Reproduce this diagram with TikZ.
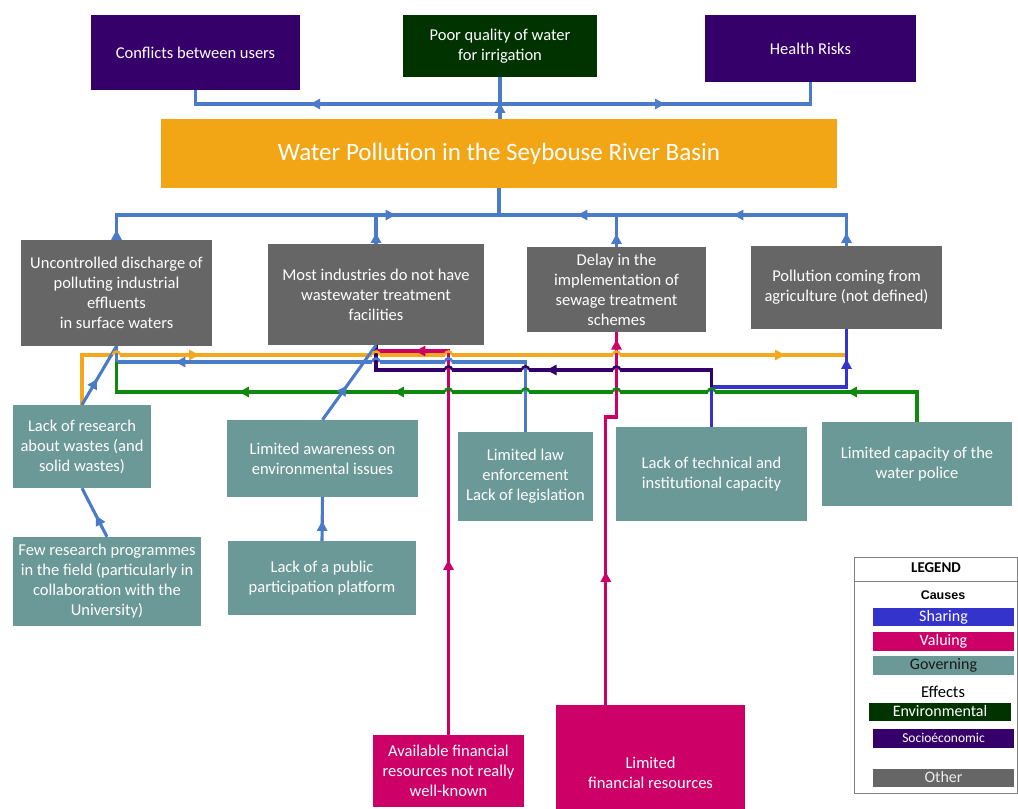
\documentclass[tikz,border=0pt]{standalone}
\usepackage{fontspec}
\setmainfont{Carlito}
\newfontfamily\causesfont{Liberation Sans}
\usetikzlibrary{arrows.meta,decorations.markings,calc}

\definecolor{socio}{HTML}{35006A}
\definecolor{envgreen}{HTML}{013300}
\definecolor{titleor}{HTML}{F2A515}
\definecolor{othergray}{HTML}{666666}
\definecolor{govteal}{HTML}{6B9997}
\definecolor{valmag}{HTML}{CC0066}
\definecolor{sharblue}{HTML}{3434CC}
\definecolor{linkblue}{HTML}{4A7BC9}
\definecolor{linkorange}{HTML}{F5A81E}
\definecolor{linkgreen}{HTML}{0E880E}
\definecolor{linkpurple}{HTML}{33006A}
\definecolor{legendgray}{HTML}{808080}

\newcommand{\boxfont}{\fontsize{16.5}{20}\selectfont}

% a line jump: the horizontal line (#1) hops over the vertical one (#2) at (#3,#4)
\newcommand{\linehop}[4]{%
  \fill[white] ({#3-3.6},{#4-1.9}) rectangle ({#3+3.6},{#4+1.9});
  \draw[link,#2] (#3,{#4-4.5}) -- (#3,{#4+4.5});
  \draw[link,#1,line width=2.4pt] ({#3-3.6},#4) arc[start angle=180,end angle=360,radius=3.6];
}

\begin{document}
\begin{tikzpicture}[x=1pt,y=-1pt,
  box/.style 2 args={rectangle, inner sep=2pt, align=center, text=white,
     minimum width=#1pt, minimum height=#2pt, font=\boxfont},
  legbar/.style={rectangle, inner sep=0pt, text=white, minimum width=141pt,
     minimum height=18.5pt, text height=11pt, text depth=3pt,
     font=\fontsize{16}{18}\selectfont},
  link/.style={line width=3.1pt},
  mk/.style={postaction={decorate,decoration={markings,
     mark=at position #1 with {\arrow{Triangle[length=10pt,width=10pt]}}}}},
]
\useasboundingbox (0,0) rectangle (1018,809);

% ---------- effects ----------
\node[box={209}{75}, fill=socio] (conf) at (195.5,52.5) {Conflicts between users};
\node[box={194}{62}, fill=envgreen] (poor) at (500,46) {Poor quality of water\\for irrigation};
\node[box={211}{67}, fill=socio] (health) at (810.5,48.5) {Health Risks};

% ---------- core problem ----------
\node[box={676}{69}, fill=titleor, font=\fontsize{25}{30}\selectfont] (main) at (499,153.5)
  {Water Pollution in the Seybouse River Basin};

% ---------- direct causes ----------
\node[box={191}{106}, fill=othergray] (unc) at (116.5,293)
  {Uncontrolled discharge of\\polluting industrial\\effluents\\in surface waters};
\node[box={216}{101}, fill=othergray] (most) at (376,294.5)
  {Most industries do not have\\wastewater treatment\\facilities};
\node[box={179}{85}, fill=othergray] (delay) at (616.5,289.5)
  {Delay in the\\implementation of\\sewage treatment\\schemes};
\node[box={191}{83}, fill=othergray] (agri) at (846.5,287.5)
  {Pollution coming from\\agriculture (not defined)};

% ---------- governing causes ----------
\node[box={138}{83}, fill=govteal] (lres) at (82,446.5)
  {Lack of research\\about wastes (and\\solid wastes)};
\node[box={191}{77}, fill=govteal] (aware) at (322.5,458.5)
  {Limited awareness on\\environmental issues};
\node[box={135}{89}, fill=govteal] (law) at (525.5,476.5)
  {Limited law\\enforcement\\Lack of legislation};
\node[box={191}{94}, fill=govteal] (tech) at (711.5,474)
  {Lack of technical and\\institutional capacity};
\node[box={190}{84}, fill=govteal] (police) at (917,464)
  {Limited capacity of the\\water police};
\node[box={188}{89}, fill=govteal] (few) at (107,581.5)
  {Few research programmes\\in the field (particularly in\\collaboration with the\\University)};
\node[box={188}{74}, fill=govteal] (pub) at (322,578)
  {Lack of a public\\participation platform};

% ---------- valuing causes ----------
\node[box={151}{72}, fill=valmag] (avail) at (448.5,771)
  {Available financial\\resources not really\\well-known};
\node[box={189}{104}, fill=valmag] (limfin) at (650.5,757) {};
\node[align=center, text=white, font=\boxfont, inner sep=0pt] (limfintext) at (650.5,773)
  {Limited\\financial resources};

% ---------- rails ----------
\coordinate (railT) at (0,104);
\coordinate (railB) at (0,215);
\coordinate (railM) at (0,351);
\coordinate (railO) at (0,355);
\coordinate (railL) at (0,362);
\coordinate (railP) at (0,370);
\coordinate (railS) at (0,387);
\coordinate (railG) at (0,392);
\coordinate (railF) at (0,417);

% ---------- core problem to effects ----------
\coordinate (jt) at (poor.south |- railT);
\draw[link, linkblue, mk=16pt] (poor.south |- main.north) -- (poor.south);
\draw[link, linkblue, mk=190pt] (jt) -| (conf.south);
\draw[link, linkblue, mk=165pt] (jt) -| (health.south);

% ---------- direct causes to core problem ----------
\coordinate (jb) at (main.south |- railB);
\draw[link, linkblue] (jb) -- (main.south);
\draw[link, linkblue, mk=10pt, mk=304pt] (unc.north) |- (jb);
\draw[link, linkblue, mk=11pt] (most.north) -- (most.north |- railB);
\draw[link, linkblue, mk=13pt] (delay.north) -- (delay.north |- railB);
\draw[link, linkblue, mk=13pt, mk=144pt, mk=300pt] (agri.north) |- (jb);

% ---------- underlying causes ----------
\draw[link, linkorange, mk=167pt, mk=753pt] (lres.north) |- (agri.south |- railO);
\draw[link, sharblue, mk=203pt] (tech.north) |- (agri.south |- railS) -- (agri.south);
\draw[link, linkpurple, mk=182pt] (tech.north |- railS) |- (most.south |- railP) -- (most.south);
\draw[link, linkblue, mk=420pt] (law.north) |- (unc.south |- railL) -- (unc.south);
\draw[link, linkgreen, mk=100pt, mk=553pt, mk=708pt] (police.north) |- (unc.south |- railG) -- (unc.south |- railL);
\draw[link, valmag, mk=175pt, mk=417pt] (avail.north) |- (most.south |- railM);
\coordinate (lfout) at ($(limfin.north west)+(50,0)$);
\draw[link, valmag, mk=133pt, mk=376pt] (lfout) |- (delay.south |- railF) -- (delay.south);

\draw[link, linkblue, mk=30pt] (lres.north) -- (unc.south);
\draw[link, linkblue, mk=42pt] (aware.north) -- (most.south);
\draw[link, linkblue, mk=24pt] (few.north) -- (lres.south);
\draw[link, linkblue, mk=20pt] (pub.north) -- (aware.south);

% ---------- line jumps ----------
\linehop{linkorange}{linkblue}{116.5}{355}
\linehop{linkorange}{linkpurple}{376}{355}
\linehop{linkorange}{valmag}{448.5}{355}
\linehop{linkorange}{valmag}{616.5}{355}
\linehop{linkblue}{linkpurple}{376}{362}
\linehop{linkblue}{valmag}{448.5}{362}
\linehop{linkpurple}{valmag}{448.5}{370}
\linehop{linkpurple}{linkblue}{525.5}{370}
\linehop{linkpurple}{valmag}{616.5}{370}
\linehop{linkgreen}{valmag}{448.5}{392}
\linehop{linkgreen}{linkblue}{525.5}{392}
\linehop{linkgreen}{valmag}{616.5}{392}
\linehop{linkgreen}{sharblue}{711.5}{392}

% ---------- legend ----------
\node[draw=legendgray, line width=1pt, minimum width=163pt, minimum height=236pt, inner sep=0pt]
  (legend) at (935.5,675) {};
\coordinate (legline) at (0,581);
\draw[legendgray, line width=1pt] (legend.west |- legline) -- (legend.east |- legline);
\node[font=\bfseries\fontsize{15}{18}\selectfont] (legtitle) at (936,568) {LEGEND};
\node[font=\causesfont\bfseries\fontsize{12.5}{15}\selectfont] (causes) at (943,595) {Causes};
\node[legbar, fill=sharblue] (lsharing) at (943.5,617) {Sharing};
\node[legbar, fill=valmag] (lvaluing) at (943.5,641.5) {Valuing};
\node[legbar, fill=govteal, text=black!90] (lgoverning) at (943.5,665.5) {Governing};
\node[font=\fontsize{16.5}{18}\selectfont] (effects) at (943,692) {Effects};
\node[legbar, fill=envgreen, minimum width=142pt] (lenv) at (940,712) {Environmental};
\node[legbar, fill=socio, font=\fontsize{13.5}{16}\selectfont] (lsocio) at (943.5,738.5) {Socioéconomic};
\node[legbar, fill=othergray, text=black!8] (lother) at (943.5,778) {Other};
\end{tikzpicture}
\end{document}
